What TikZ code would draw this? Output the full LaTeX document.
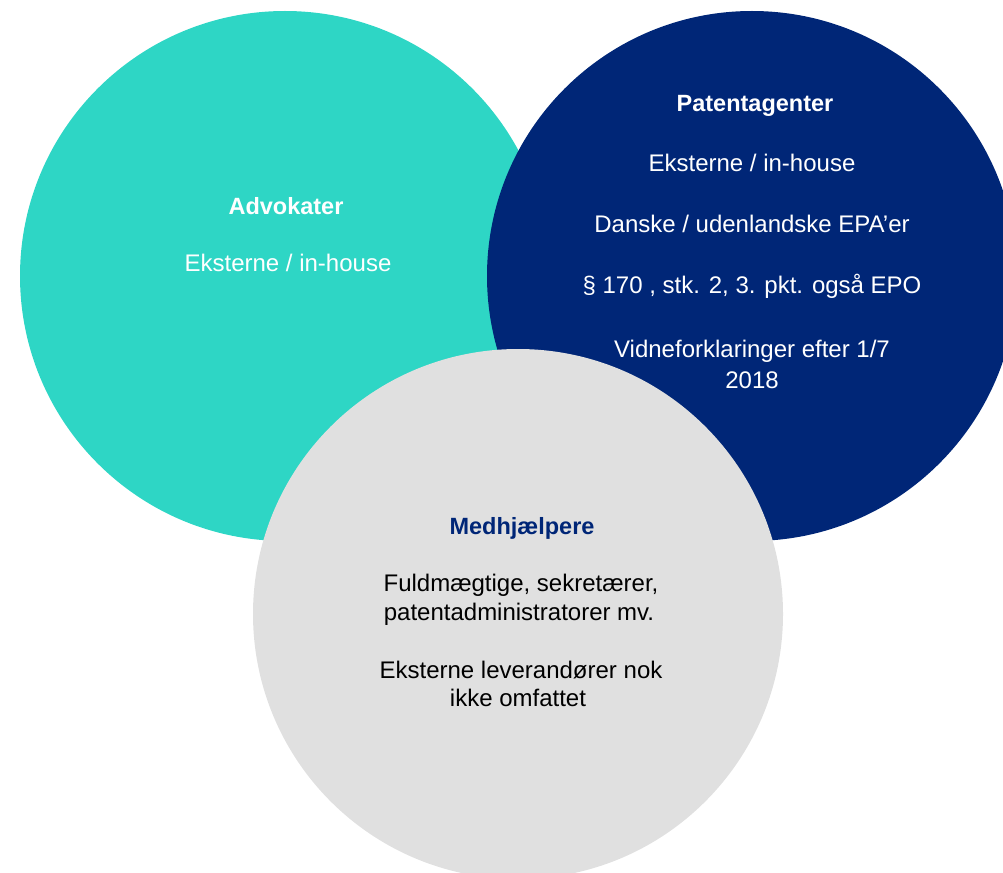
\documentclass[tikz,border=0pt]{standalone}
\usepackage{fontspec}
\setmainfont{Liberation Sans}
\definecolor{tealc}{HTML}{2ED6C5}
\definecolor{navyc}{HTML}{002677}
\definecolor{grayc}{HTML}{E0E0E0}
\begin{document}
\begin{tikzpicture}[x=1pt,y=-1pt,
  blob/.style={circle, inner sep=0pt, minimum size=530pt},
  lbl/.style={anchor=base, inner sep=0pt, font=\fontsize{24}{29}\selectfont, align=center},
  head/.style={lbl, font=\fontsize{23.5}{29}\selectfont\bfseries}]
\useasboundingbox (0,0) rectangle (1003,872);
\clip (0,0) rectangle (1003,872);
\node[blob, fill=tealc] (adv) at (285,276) {};
\node[blob, fill=navyc] (pat) at (752,276) {};
\node[blob, fill=grayc] (med) at (518,614) {};
% Advokater
\node[head, text=white] (advh) at (286,214) {Advokater};
\node[lbl, text=white] (adv1) at (288,271) {Eksterne / in-house};
% Patentagenter
\node[head, text=white] (path) at (755,112) {Patentagenter};
\node[lbl, text=white] (pat1) at (752,171) {Eksterne / in-house};
\node[lbl, text=white] (pat2) at (752,232) {Danske / udenlandske EPA’er};
\node[lbl, text=white] (pat3) at (752,293) {§ 170 , stk. 2, 3. pkt. også EPO};
\node[lbl, text=white] (pat4) at (752,357) {Vidneforklaringer efter 1/7};
\node[lbl, text=white] (pat5) at (752,388) {2018};
% Medhjaelpere
\node[head, text=navyc] (medh) at (522,534) {Medhjælpere};
\node[lbl, text=black] (med1) at (521,591) {Fuldmægtige, sekretærer,};
\node[lbl, text=black] (med2) at (519,620) {patentadministratorer mv.};
\node[lbl, text=black] (med3) at (521,678) {Eksterne leverandører nok};
\node[lbl, text=black] (med4) at (518,706) {ikke omfattet};
\end{tikzpicture}
\end{document}
